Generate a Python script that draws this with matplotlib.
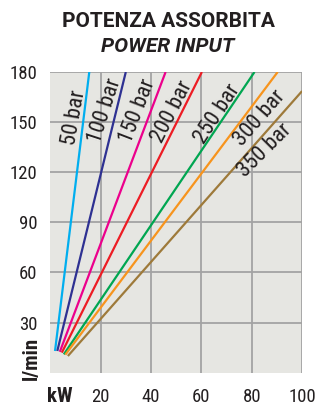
import matplotlib
matplotlib.use('Agg')
import matplotlib.pyplot as plt

# pressure curves: start and end points (kW, l/min)
labels = ['50 bar', '100 bar', '150 bar', '200 bar', '250 bar', '300 bar', '350 bar']
kw_start = [1.9, 2.8, 3.8, 4.6, 5.4, 6.0, 7.0]
flow_start = [13.0, 13.0, 12.5, 12.0, 11.0, 10.8, 10.0]
kw_end = [15.5, 30.0, 45.8, 60.2, 81.1, 90.3, 100.0]
flow_end = [180, 180, 180, 180, 180, 180, 168.6]
colors = ['#00aeef', '#2e3192', '#ec008c', '#ed1c24', '#00a651', '#f7941d', '#9e7a3a']

# label anchors and angles
lab_x = [9.4, 21.7, 34.8, 48.4, 66.6, 83.3, 85.3]
lab_y = [152.5, 156.6, 156.6, 156.0, 154.8, 152.5, 132.8]
lab_rot = [80, 72, 69, 63, 57, 49, 45]

xticks = [20, 40, 60, 80, 100]
yticks = [30, 60, 90, 120, 150, 180]

cond = ['Roboto Condensed', 'DejaVu Sans']
head = ['Roboto', 'DejaVu Sans']
ink = '#231f20'

fig = plt.figure(figsize=(3.16, 4.08), dpi=100)
ax = fig.add_axes([0.159, 0.0865, 0.797, 0.737])
ax.set_facecolor('#e6e6e2')
ax.set_xlim(0, 100)
ax.set_ylim(0, 180)
for s in ax.spines.values():
    s.set_visible(False)

ax.set_xticks(xticks)
ax.set_yticks(yticks)
ax.grid(True, color='#a3a3a3', linewidth=1.3)
ax.set_axisbelow(True)
ax.tick_params(length=0, labelsize=13.5, colors=ink)
ax.tick_params(axis='x', pad=11)
ax.tick_params(axis='y', pad=9)
for t in ax.get_xticklabels() + ax.get_yticklabels():
    t.set_family(cond)

for i in range(len(labels)):
    ax.plot([kw_start[i], kw_end[i]], [flow_start[i], flow_end[i]],
            color=colors[i], linewidth=1.6, solid_capstyle='butt')
    ax.text(lab_x[i], lab_y[i], labels[i], rotation=lab_rot[i],
            rotation_mode='anchor', ha='center', va='center',
            fontsize=16, family=cond, color=ink)

fig.text(0.19, 0.027, 'kW', ha='center', va='center', fontsize=15,
         fontweight='bold', family=cond, color=ink)
fig.text(0.098, 0.1225, 'l/min', ha='center', va='center', rotation=90,
         fontsize=15, fontweight='bold', family=cond, color=ink)

fig.text(0.532, 0.948, 'POTENZA ASSORBITA', ha='center', va='center',
         fontsize=15, fontweight='bold', family=head, color=ink)
fig.text(0.532, 0.885, 'POWER INPUT', ha='center', va='center',
         fontsize=15, fontweight='bold', style='italic', family=head, color=ink)

fig.savefig('out.png', dpi=100)
